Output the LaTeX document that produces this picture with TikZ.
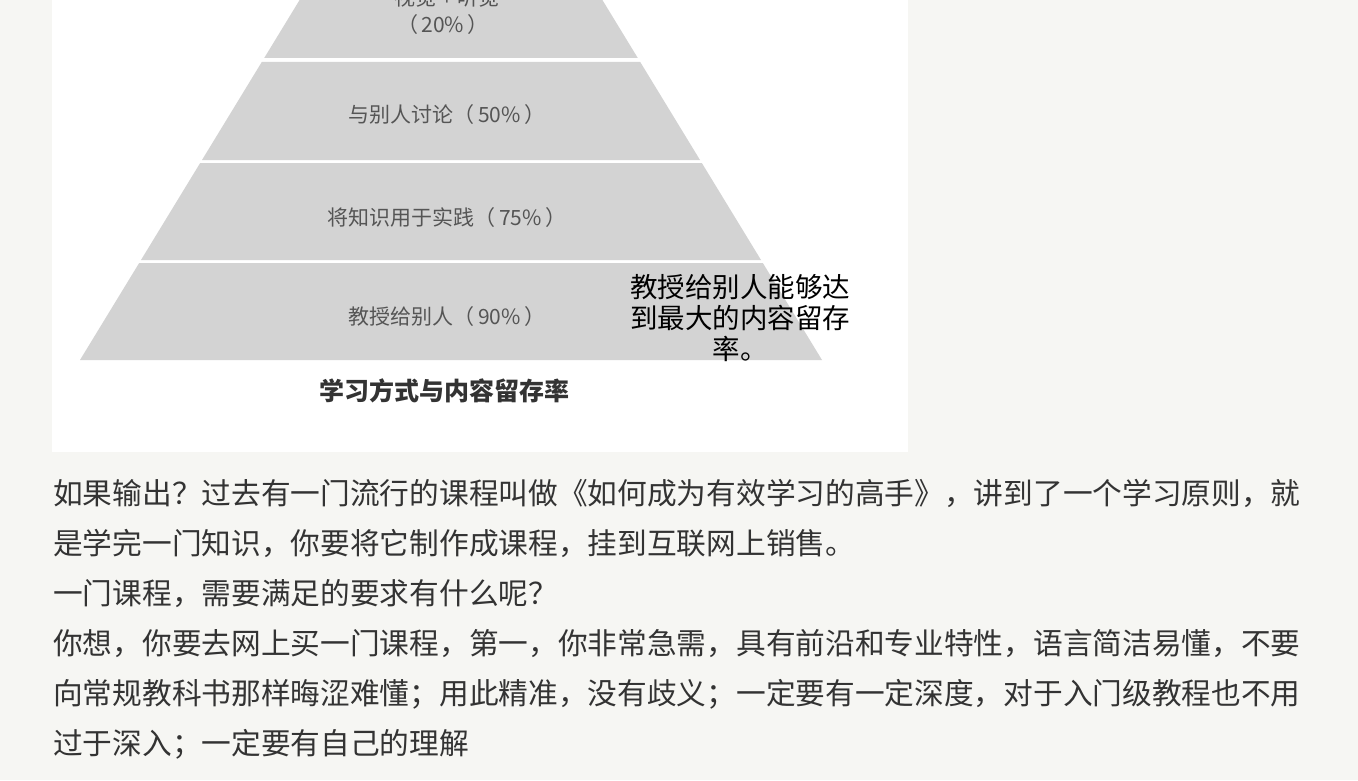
\documentclass[tikz,border=0pt]{standalone}
\usepackage{fontspec}
\setmainfont{Noto Sans CJK SC}
\definecolor{paper}{HTML}{F6F6F3}
\definecolor{layergray}{HTML}{D3D3D3}
\definecolor{labelgray}{HTML}{555555}
\definecolor{bodytext}{HTML}{333333}
\begin{document}
\begin{tikzpicture}[x=1bp, y=-1bp,
  layer/.style={fill=layergray},
  layerlabel/.style={font=\fontsize{21bp}{25bp}\selectfont, text=labelgray, inner sep=0pt},
  bodyline/.style={anchor=base west, font=\fontsize{29.7bp}{50bp}\selectfont, text=bodytext, inner sep=0pt}]
  \useasboundingbox (0,0) rectangle (1358,780);
  \clip (0,0) rectangle (1358,780);

  % page and picture
  \fill[paper] (0,0) rectangle (1358,780);
  \fill[white] (52,0) rectangle (908,452);

  % pyramid layers
  \def\cx{451}
  \def\hw{371}
  \def\sl{0.61}
  \foreach \ya/\yb in {-40/58, 62/160, 163/260, 263/360}
    \fill[layer] ({\cx-\hw+\sl*(360-\ya)},\ya) -- ({\cx+\hw-\sl*(360-\ya)},\ya)
      -- ({\cx+\hw-\sl*(360-\yb)},\yb) -- ({\cx-\hw+\sl*(360-\yb)},\yb) -- cycle;

  % layer labels
  \node[layerlabel] (see) at (447,-2) {视觉 + 听觉};
  \node[layerlabel] (seepct) at (443,25) {（\,20\%\,）};
  \node[layerlabel] (talk) at (447,115) {与别人讨论（\,50\%\,）};
  \node[layerlabel] (practice) at (447,218) {将知识用于实践（\,75\%\,）};
  \node[layerlabel] (teach) at (447,317) {教授给别人（\,90\%\,）};

  % caption and note
  \node[font=\bfseries\fontsize{25bp}{29bp}\selectfont, text=bodytext, inner sep=0pt]
    (caption) at (444,391) {学习方式与内容留存率};
  \node[align=center, font=\fontsize{27.5bp}{31bp}\selectfont, inner sep=0pt]
    (note) at (740,318) {教授给别人能够达\\到最大的内容留存\\率。};

  % body text
  \node[bodyline] (line1) at (53,504) {如果输出？过去有一门流行的课程叫做《如何成为有效学习的高手》，讲到了一个学习原则，就};
  \node[bodyline] (line2) at (53,554) {是学完一门知识，你要将它制作成课程，挂到互联网上销售。};
  \node[bodyline] (line3) at (53,604) {一门课程，需要满足的要求有什么呢？};
  \node[bodyline] (line4) at (53,654) {你想，你要去网上买一门课程，第一，你非常急需，具有前沿和专业特性，语言简洁易懂，不要};
  \node[bodyline] (line5) at (53,704) {向常规教科书那样晦涩难懂；用此精准，没有歧义；一定要有一定深度，对于入门级教程也不用};
  \node[bodyline] (line6) at (53,754) {过于深入；一定要有自己的理解};
\end{tikzpicture}
\end{document}
